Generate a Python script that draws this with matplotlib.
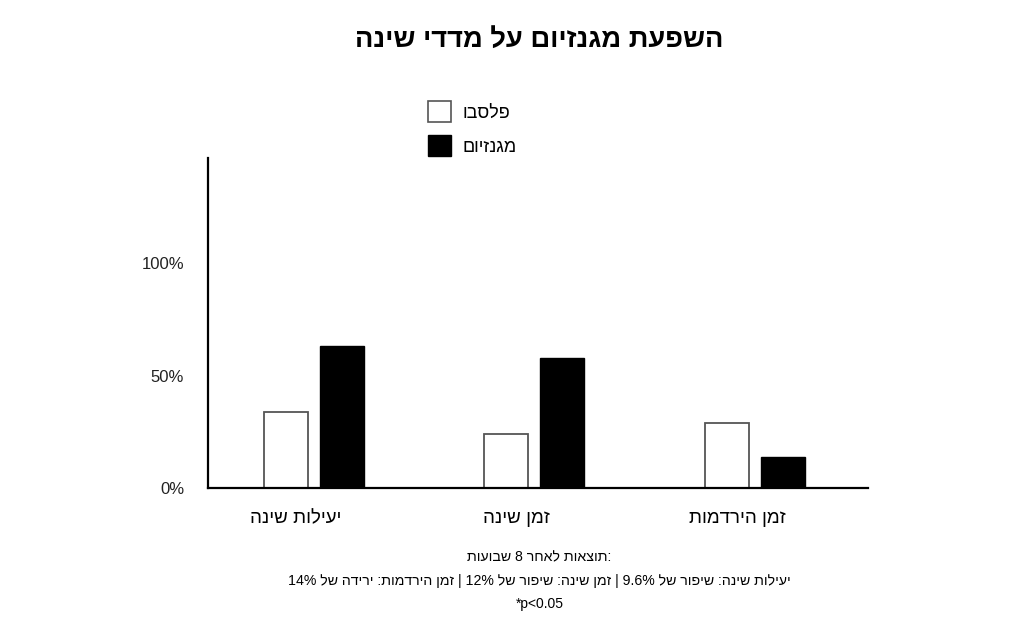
import re
import matplotlib
matplotlib.use('Agg')
import matplotlib.pyplot as plt
from matplotlib.patches import Patch

plt.rcParams['font.family'] = ['Liberation Sans', 'DejaVu Sans']

# data
categories = ['יעילות שינה', 'זמן שינה', 'זמן הירדמות']
placebo = [34, 24, 29]
magnesium = [63, 58, 14]
series_names = ['פלסבו', 'מגנזיום']
yticks = [0, 50, 100]
ytick_labels = ['0%', '50%', '100%']
title = 'השפעת מגנזיום על מדדי שינה'
note1 = 'תוצאות לאחר 8 שבועות:'
note2 = 'יעילות שינה: שיפור של 9.6% | זמן שינה: שיפור של 12% | זמן הירדמות: ירידה של 14%'
note3 = '*p<0.05'


def vis(s):
    # crude bidi: reverse the string, keep number runs in their own order
    tokens = re.findall(r'[0-9.%]+|.', s)
    return ''.join(reversed(tokens))


fig = plt.figure(figsize=(10.24, 6.34), dpi=100)
ax = fig.add_axes([0.203, 0.230, 0.645, 0.521])

x = list(range(len(categories)))
w = 0.2
ax.bar([i - 0.047 for i in x], placebo, w, color='white', edgecolor='#555555', linewidth=1.3)
ax.bar([i + 0.207 for i in x], magnesium, w, color='black', edgecolor='black', linewidth=1.0)

ax.set_xlim(-0.40, 2.594)
ax.set_ylim(0, 146.7)
ax.set_yticks(yticks)
ax.set_yticklabels(ytick_labels, fontsize=12)
ax.set_xticks(x)
ax.set_xticklabels([vis(c) for c in categories], fontsize=13.5)
ax.tick_params(axis='both', length=0)
ax.tick_params(axis='y', pad=17, colors='#222222')
ax.tick_params(axis='x', pad=16)
for s in ['top', 'right']:
    ax.spines[s].set_visible(False)
for s in ['left', 'bottom']:
    ax.spines[s].set_linewidth(1.6)
    ax.spines[s].set_color('black')

fig.text(0.5265, 0.937, vis(title), ha='center', va='center', fontsize=19.7, fontweight='bold')

handles = [Patch(facecolor='white', edgecolor='#555555', linewidth=1.2),
           Patch(facecolor='black', edgecolor='black')]
fig.legend(handles, [vis(n) for n in series_names], loc='upper left',
           bbox_to_anchor=(0.409, 0.855), frameon=False, fontsize=13,
           handlelength=1.3, handleheight=1.4, handletextpad=0.6,
           labelspacing=0.75, borderpad=0.0)

fig.text(0.527, 0.121, vis(note1[:-1]) + note1[-1], ha='center', va='center', fontsize=10.2)
fig.text(0.527, 0.083, vis(note2), ha='center', va='center', fontsize=10.2)
fig.text(0.527, 0.047, note3, ha='center', va='center', fontsize=10)

plt.savefig('out.png', dpi=100)
